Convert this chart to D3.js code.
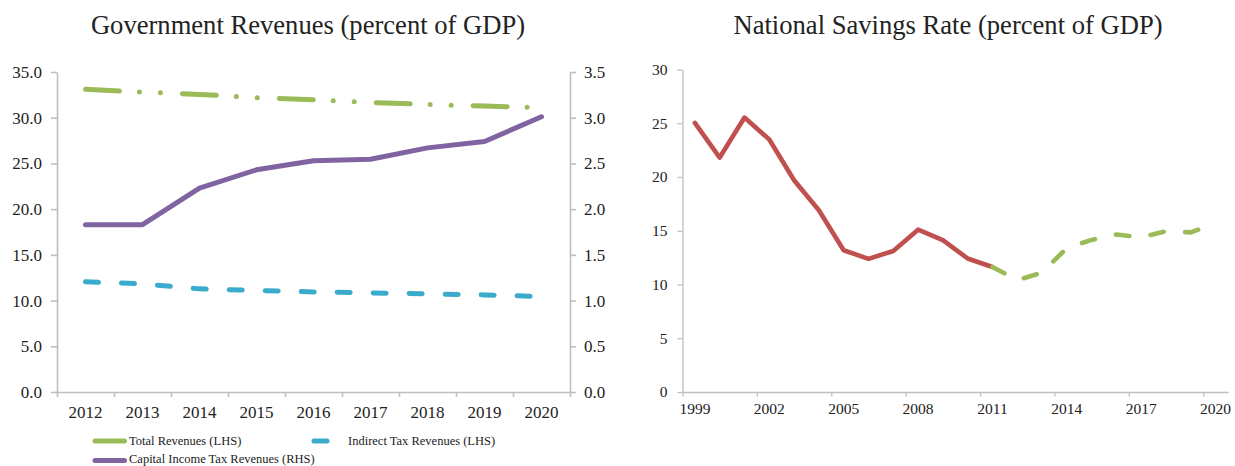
<!DOCTYPE html>
<html lang="en">
<head>
    <meta charset="UTF-8">
    <title>Government Revenues and National Savings Rate</title>
    <script src="https://d3js.org/d3.v7.min.js"></script>
    <style>
        body { margin: 0; background: #fff; }
        svg text { font-family: "Liberation Serif", "Times New Roman", serif; fill: #222; }
        .axis path, .axis line { stroke: #bfbfbf; }
        .title { font-size: 26.6px; }
    </style>
</head>
<body>
<svg width="1235" height="466"></svg>
<script>
    // Left chart: government revenues, 2012-2020
    const revYears = [2012, 2013, 2014, 2015, 2016, 2017, 2018, 2019, 2020];
    const totalRevenues = [33.1, 32.8, 32.55, 32.2, 31.97, 31.67, 31.45, 31.27, 31.09];   // LHS
    const indirectTax = [12.05, 11.83, 11.28, 11.1, 10.95, 10.84, 10.73, 10.62, 10.44];   // LHS
    const capitalIncomeTax = [1.83, 1.83, 2.23, 2.43, 2.53, 2.545, 2.67, 2.74, 3.01];     // RHS
    const lhsTicks = [0, 5, 10, 15, 20, 25, 30, 35];
    const rhsTicks = [0, 0.5, 1, 1.5, 2, 2.5, 3, 3.5];

    // Right chart: national savings rate, 1999-2020
    const savingsYears = d3.range(1999, 2021);
    const savingsActual = [25.04, 21.81, 25.53, 23.49, 19.7, 16.9, 13.19, 12.38, 13.12, 15.1, 14.13, 12.42, 11.63]; // 1999-2011
    const savingsProjected = [11.63, 10.4, 11.1, 13.4, 14.15, 14.65, 14.4, 14.95, 14.85, 15.7];                    // 2011-2020
    const savingsTicks = [0, 5, 10, 15, 20, 25, 30];
    const savingsLabelYears = [1999, 2002, 2005, 2008, 2011, 2014, 2017, 2020];

    const svg = d3.select("svg");

    // ---------- left chart ----------
    const L = { left: 57, right: 570, top: 72, bottom: 392 };

    svg.append("text").attr("class", "title")
        .attr("x", 308).attr("y", 34).attr("text-anchor", "middle")
        .text("Government Revenues (percent of GDP)");

    const xL = d3.scaleBand().domain(revYears).range([L.left, L.right]);
    const xLIdx = d3.scaleLinear().domain([0, revYears.length]).range([L.left, L.right]);
    const yL = d3.scaleLinear().domain([0, 35]).range([L.bottom, L.top]);
    const yR = d3.scaleLinear().domain([0, 3.5]).range([L.bottom, L.top]);

    const gAxisL = svg.append("g").attr("class", "axis")
        .attr("transform", `translate(${L.left},0)`)
        .call(d3.axisLeft(yL).tickValues(lhsTicks).tickFormat(d3.format(".1f"))
            .tickSize(6).tickSizeOuter(0).tickPadding(9));
    const gAxisR = svg.append("g").attr("class", "axis")
        .attr("transform", `translate(${L.right},0)`)
        .call(d3.axisRight(yR).tickValues(rhsTicks).tickFormat(d3.format(".1f"))
            .tickSize(6).tickSizeOuter(0).tickPadding(8));
    // tick marks between categories
    const gTickL = svg.append("g").attr("class", "axis")
        .attr("transform", `translate(0,${L.bottom})`)
        .call(d3.axisBottom(xLIdx).tickValues(d3.range(revYears.length + 1))
            .tickFormat("").tickSize(5).tickSizeOuter(0));
    const gLabL = svg.append("g").attr("class", "axis")
        .attr("transform", `translate(0,${L.bottom})`)
        .call(d3.axisBottom(xL).tickSize(0).tickPadding(14));
    gLabL.select(".domain").remove();
    [gAxisL, gAxisR, gTickL].forEach(g => g.selectAll("path, line").attr("stroke-width", 1.6));
    [gAxisL, gAxisR, gLabL].forEach(g => g.selectAll("text").style("font-size", "17px").attr("fill", "#222"));

    const lineL = d3.line().x((d, i) => xL(revYears[i]) + xL.bandwidth() / 2).y(d => yL(d));
    const lineR = d3.line().x((d, i) => xL(revYears[i]) + xL.bandwidth() / 2).y(d => yR(d));

    const revSeries = [
        { name: "Total Revenues (LHS)", values: totalRevenues, line: lineL, color: "#9bbb59", dash: "34,20,0,21,0,22", lx: 95, ly: 441, ty: 445 },
        { name: "Indirect Tax Revenues (LHS)", values: indirectTax, line: lineL, color: "#3aabca", dash: "13,23", lx: 314, ly: 441, ty: 445 },
        { name: "Capital Income Tax Revenues (RHS)", values: capitalIncomeTax, line: lineR, color: "#8064a2", dash: null, lx: 95, ly: 460.5, ty: 463 }
    ];

    revSeries.forEach(s => {
        svg.append("path")
            .attr("d", s.line(s.values))
            .attr("fill", "none")
            .attr("stroke", s.color)
            .attr("stroke-width", 5)
            .attr("stroke-linecap", "round")
            .attr("stroke-linejoin", "round")
            .attr("stroke-dasharray", s.dash);

        // legend
        svg.append("line")
            .attr("x1", s.lx).attr("x2", s.lx + 29.5)
            .attr("y1", s.ly).attr("y2", s.ly)
            .attr("stroke", s.color).attr("stroke-width", 5)
            .attr("stroke-linecap", "round")
            .attr("stroke-dasharray", s.dash);
        svg.append("text")
            .attr("x", s.lx + 34).attr("y", s.ty)
            .style("font-size", "12.5px")
            .text(s.name);
    });

    // ---------- right chart ----------
    const R = { left: 682.5, right: 1228, top: 69.5, bottom: 392 };

    svg.append("text").attr("class", "title")
        .attr("x", 948).attr("y", 34).attr("text-anchor", "middle")
        .text("National Savings Rate (percent of GDP)");

    const xS = d3.scaleBand().domain(savingsYears).range([R.left, R.right]);
    const xSIdx = d3.scaleLinear().domain([0, savingsYears.length]).range([R.left, R.right]);
    const yS = d3.scaleLinear().domain([0, 30]).range([R.bottom, R.top]);

    const gAxisS = svg.append("g").attr("class", "axis")
        .attr("transform", `translate(${R.left},0)`)
        .call(d3.axisLeft(yS).tickValues(savingsTicks).tickSize(5).tickSizeOuter(0).tickPadding(10));
    const gTickS = svg.append("g").attr("class", "axis")
        .attr("transform", `translate(0,${R.bottom})`)
        .call(d3.axisBottom(xSIdx).tickValues(d3.range(0, savingsYears.length, 3))
            .tickFormat("").tickSize(4.5).tickSizeOuter(0));
    const gLabS = svg.append("g").attr("class", "axis")
        .attr("transform", `translate(0,${R.bottom})`)
        .call(d3.axisBottom(xS).tickValues(savingsLabelYears).tickSize(0).tickPadding(10.5));
    gLabS.select(".domain").remove();
    [gAxisS, gTickS].forEach(g => g.selectAll("path, line").attr("stroke-width", 1.3));
    [gAxisS, gLabS].forEach(g => g.selectAll("text").style("font-size", "15.5px").attr("fill", "#222"));

    const xSc = y => xS(y) + xS.bandwidth() / 2;
    const lineS = d3.line().x(d => xSc(d[0])).y(d => yS(d[1]));

    const actualPts = savingsActual.map((v, i) => [1999 + i, v]);
    const projPts = savingsProjected.map((v, i) => [2011 + i, v]);

    svg.append("path")
        .attr("d", lineS(actualPts))
        .attr("fill", "none").attr("stroke", "#c0504d")
        .attr("stroke-width", 4.6).attr("stroke-linejoin", "round").attr("stroke-linecap", "round");
    svg.append("path")
        .attr("d", lineS(projPts))
        .attr("fill", "none").attr("stroke", "#9bbb59")
        .attr("stroke-width", 4.6).attr("stroke-linejoin", "round").attr("stroke-linecap", "round")
        .attr("stroke-dasharray", "13.5,21.5");
</script>
</body>
</html>
